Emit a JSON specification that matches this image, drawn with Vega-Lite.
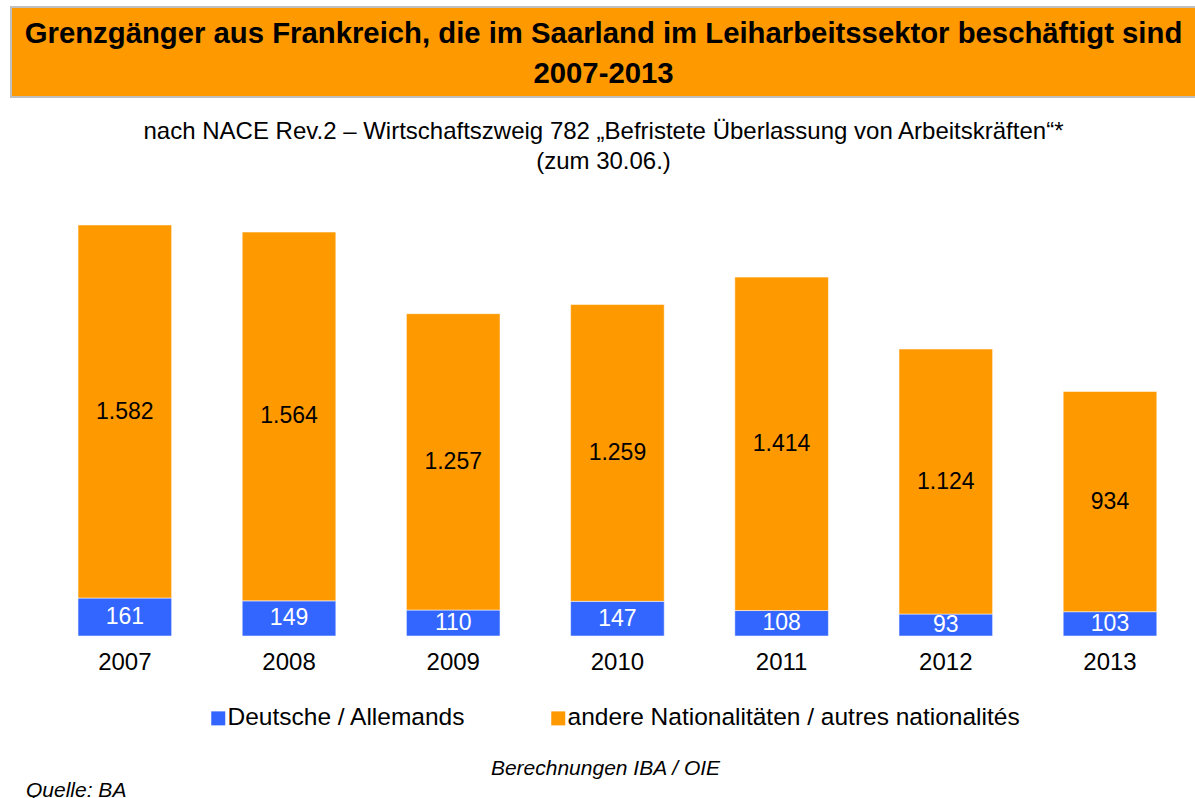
{
  "$schema": "https://vega.github.io/schema/vega-lite/v6.json",
  "background": "white",
  "padding": {"left": 10, "top": 6, "right": 0, "bottom": 0},
  "spacing": 21,
  "config": {
    "font": "Liberation Sans",
    "locale": {"number": {"decimal": ",", "thousands": ".", "grouping": [3], "currency": ["", " €"]}}
  },
  "title": {"text": "Quelle: BA", "orient": "bottom", "anchor": "start", "fontSize": 21, "fontStyle": "italic", "fontWeight": "normal", "color": "black", "dx": 16, "offset": 2},
  "vconcat": [
    {
      "width": 1185,
      "height": 90,
      "view": {"fill": "#FF9900", "stroke": "#BFBFBF", "strokeWidth": 2},
      "data": {"values": [
        {"line": 1, "text": "Grenzgänger aus Frankreich, die im Saarland im Leiharbeitssektor beschäftigt sind"},
        {"line": 2, "text": "2007-2013"}
      ]},
      "mark": {"type": "text", "fontSize": 29.3, "fontWeight": "bold", "color": "black", "baseline": "alphabetic", "dy": 11},
      "encoding": {
        "y": {"field": "line", "type": "ordinal", "axis": null, "scale": {"type": "point", "padding": 0.5976}},
        "text": {"field": "text"}
      }
    },
    {
      "width": 1185,
      "height": 411,
      "view": {"stroke": null},
      "title": {
        "text": ["nach NACE Rev.2 – Wirtschaftszweig 782 „Befristete Überlassung von Arbeitskräften“*", "(zum 30.06.)"],
        "fontSize": 24, "fontWeight": "normal", "color": "black", "lineHeight": 30, "anchor": "middle", "offset": 51
      },
      "data": {"values": [
        {"year": "2007", "series": "Deutsche / Allemands", "value": 161},
        {"year": "2007", "series": "andere Nationalitäten / autres nationalités", "value": 1582},
        {"year": "2008", "series": "Deutsche / Allemands", "value": 149},
        {"year": "2008", "series": "andere Nationalitäten / autres nationalités", "value": 1564},
        {"year": "2009", "series": "Deutsche / Allemands", "value": 110},
        {"year": "2009", "series": "andere Nationalitäten / autres nationalités", "value": 1257},
        {"year": "2010", "series": "Deutsche / Allemands", "value": 147},
        {"year": "2010", "series": "andere Nationalitäten / autres nationalités", "value": 1259},
        {"year": "2011", "series": "Deutsche / Allemands", "value": 108},
        {"year": "2011", "series": "andere Nationalitäten / autres nationalités", "value": 1414},
        {"year": "2012", "series": "Deutsche / Allemands", "value": 93},
        {"year": "2012", "series": "andere Nationalitäten / autres nationalités", "value": 1124},
        {"year": "2013", "series": "Deutsche / Allemands", "value": 103},
        {"year": "2013", "series": "andere Nationalitäten / autres nationalités", "value": 934}
      ]},
      "encoding": {
        "x": {
          "field": "year", "type": "ordinal",
          "scale": {"paddingInner": 0.43, "paddingOuter": 0.3235, "align": 0.631},
          "axis": {
            "title": "Berechnungen IBA / OIE",
            "labelAngle": 0, "labelFontSize": 24, "labelColor": "black", "labelPadding": 14,
            "domain": false, "ticks": false, "tickSize": 0, "grid": false,
            "titleFontSize": 21, "titleFontStyle": "italic", "titleFontWeight": "normal", "titleColor": "black",
            "titleX": 594, "titleY": 138, "titleBaseline": "alphabetic", "titleAlign": "center", "titleAngle": 0
          }
        },
        "order": {"field": "series", "sort": "ascending"}
      },
      "layer": [
        {
          "mark": {"type": "bar", "stroke": "white", "strokeOpacity": 0.5, "strokeWidth": 1},
          "encoding": {
            "y": {"field": "value", "type": "quantitative", "stack": "zero", "scale": {"domain": [0, 1743], "nice": false}, "axis": null},
            "color": {
              "field": "series", "type": "nominal",
              "scale": {"domain": ["Deutsche / Allemands", "andere Nationalitäten / autres nationalités"], "range": ["#3366FF", "#FF9900"]},
              "legend": {
                "orient": "none", "legendX": 195, "legendY": 699, "direction": "horizontal", "title": null,
                "symbolType": "square", "symbolSize": 196, "symbolStrokeWidth": 0, "symbolOpacity": 1,
                "labelFontSize": 24.5, "labelColor": "black", "labelOffset": -3, "columnPadding": 80, "labelLimit": 600
              }
            }
          }
        },
        {
          "mark": {"type": "text", "fontSize": 23, "baseline": "middle"},
          "encoding": {
            "y": {"field": "value", "type": "quantitative", "stack": "zero", "bandPosition": 0.5},
            "text": {"field": "value", "type": "quantitative", "format": ",d"},
            "fill": {
              "field": "series", "type": "nominal",
              "scale": {"domain": ["Deutsche / Allemands", "andere Nationalitäten / autres nationalités"], "range": ["white", "black"]},
              "legend": null
            }
          }
        }
      ]
    }
  ]
}
